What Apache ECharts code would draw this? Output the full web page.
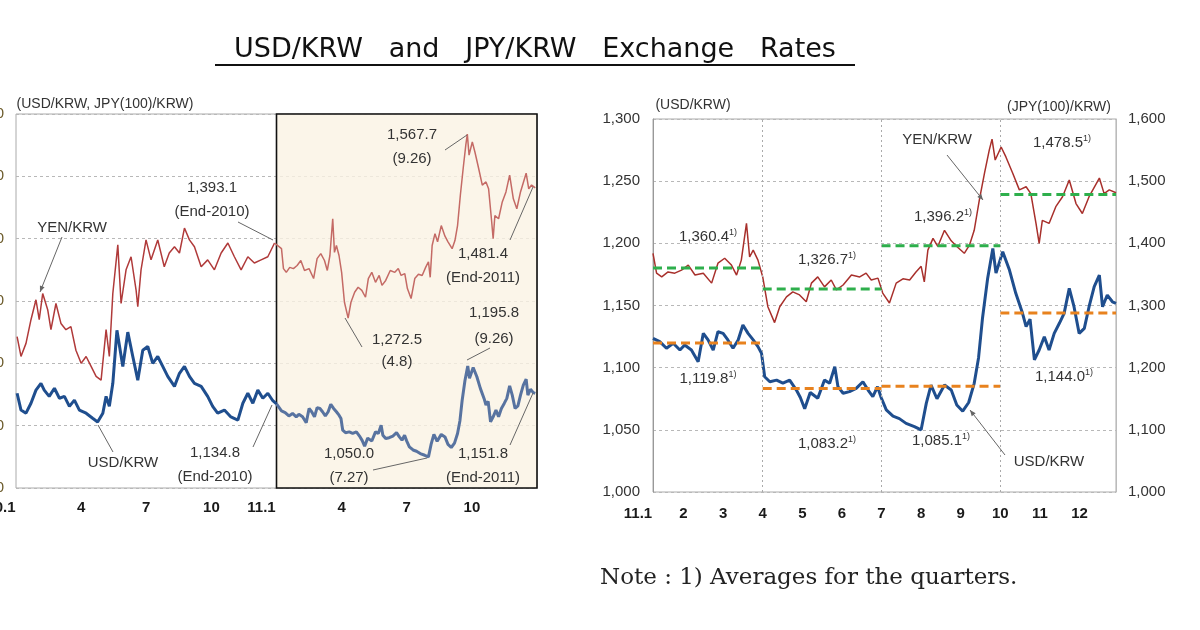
<!DOCTYPE html>
<html><head><meta charset="utf-8">
<script src="https://cdn.jsdelivr.net/npm/echarts@6/dist/echarts.min.js"></script>
<style>html,body{margin:0;padding:0;background:#fff}#c{width:1200px;height:630px}</style>
</head><body><div id="c"></div>
<script>
// ---- DATA (month index from Jan 1 of the year, rate) ----
const usd2010 = [[0.05,1152],[0.23,1125],[0.46,1120],[0.69,1136],[0.92,1157],[1.15,1168],[1.30,1157],[1.53,1147],[1.77,1160],[2.00,1144],[2.23,1147],[2.46,1131],[2.69,1141],[2.92,1125],[3.23,1120],[3.53,1112],[3.76,1106],[4.00,1120],[4.15,1147],[4.30,1131],[4.46,1168],[4.65,1253],[4.92,1195],[5.15,1250],[5.38,1211],[5.61,1173],[5.84,1221],[6.07,1227],[6.30,1200],[6.53,1211],[6.76,1195],[6.99,1179],[7.30,1163],[7.53,1184],[7.76,1195],[7.99,1179],[8.22,1168],[8.53,1163],[8.83,1147],[9.06,1131],[9.29,1120],[9.60,1125],[9.90,1114],[10.22,1109],[10.45,1136],[10.68,1152],[10.91,1136],[11.14,1157],[11.37,1144],[11.60,1152],[11.83,1140],[12.00,1134.8]];
const yen2010 = [[0.05,1243],[0.23,1211],[0.46,1232],[0.69,1270],[0.92,1302],[1.07,1270],[1.23,1312],[1.46,1286],[1.61,1254],[1.84,1296],[2.07,1264],[2.30,1254],[2.53,1259],[2.76,1221],[3.00,1200],[3.23,1211],[3.46,1195],[3.69,1179],[3.92,1173],[4.15,1254],[4.30,1211],[4.46,1312],[4.69,1390],[4.84,1296],[5.07,1350],[5.30,1371],[5.53,1318],[5.61,1291],[5.76,1350],[5.99,1398],[6.22,1366],[6.53,1398],[6.83,1355],[7.06,1377],[7.30,1387],[7.53,1377],[7.76,1417],[7.99,1398],[8.22,1387],[8.53,1355],[8.83,1366],[9.14,1350],[9.45,1377],[9.76,1393],[10.06,1371],[10.37,1350],[10.68,1371],[10.98,1361],[11.29,1366],[11.60,1371],[11.91,1393.1]];
const usd2011 = [[0.23,1123.6],[0.40,1120.9],[0.57,1115.6],[0.74,1119.6],[0.91,1114.2],[1.03,1118.2],[1.20,1114.2],[1.37,1104.8],[1.50,1127.6],[1.62,1122.3],[1.75,1114.2],[1.87,1128.9],[2.00,1127.6],[2.12,1122.3],[2.25,1115.6],[2.38,1122.3],[2.50,1134.3],[2.63,1127.6],[2.76,1122.3],[2.88,1116.9],[2.97,1111.5],[3.05,1092.7],[3.18,1088.7],[3.35,1090],[3.51,1087.5],[3.68,1090],[3.85,1082],[3.95,1076],[4.06,1067],[4.20,1080],[4.39,1075.4],[4.56,1090],[4.69,1087.5],[4.82,1100.8],[4.90,1084.7],[5.03,1079.4],[5.19,1080.7],[5.36,1083.4],[5.53,1088.7],[5.66,1082],[5.78,1076.7],[5.90,1084.7],[5.99,1076],[6.12,1066],[6.29,1061],[6.45,1059],[6.62,1055.2],[6.83,1052.5],[7.00,1050.0],[7.13,1071.3],[7.25,1086],[7.40,1075],[7.59,1086],[7.76,1082],[7.90,1070],[8.05,1065],[8.20,1072],[8.34,1087.4],[8.45,1108],[8.55,1140],[8.68,1172],[8.81,1195.8],[8.89,1176],[9.06,1193.3],[9.23,1178.5],[9.39,1159.8],[9.56,1143.7],[9.65,1133],[9.75,1139],[9.86,1106.2],[9.98,1114.2],[10.11,1124.9],[10.23,1114.2],[10.36,1127.6],[10.49,1135.7],[10.61,1143.7],[10.74,1163.8],[10.86,1149],[10.99,1127.6],[11.12,1131.6],[11.24,1149],[11.37,1165.1],[11.50,1174.5],[11.58,1149],[11.70,1158.4],[11.83,1153],[11.92,1151.8]];
const yen2011 = [[0.23,1384],[0.32,1352],[0.45,1346],[0.61,1354],[0.78,1352],[0.95,1357],[1.12,1365],[1.29,1349],[1.50,1352],[1.71,1336],[1.87,1368],[2.04,1376],[2.21,1365],[2.34,1349],[2.46,1373],[2.59,1432],[2.67,1378],[2.76,1389],[2.88,1373],[3.00,1346],[3.13,1298],[3.30,1272.5],[3.43,1298],[3.60,1314],[3.76,1322],[3.93,1317],[4.10,1306],[4.23,1336],[4.39,1346],[4.56,1330],[4.73,1341],[4.86,1325],[5.03,1333],[5.24,1349],[5.45,1346],[5.61,1352],[5.74,1341],[5.91,1344],[6.03,1320],[6.20,1304],[6.37,1336],[6.54,1343],[6.71,1341],[6.87,1354],[7.00,1363],[7.08,1338],[7.17,1389],[7.30,1408],[7.42,1395],[7.59,1421],[7.76,1404],[7.90,1395],[8.09,1384],[8.22,1397],[8.34,1421],[8.47,1470],[8.60,1513],[8.72,1550],[8.79,1567.7],[8.87,1534],[9.02,1555],[9.14,1539],[9.31,1513],[9.48,1486],[9.65,1491],[9.77,1480],[9.90,1432],[9.98,1400],[10.06,1437],[10.23,1432],[10.40,1459],[10.57,1475],[10.74,1502],[10.91,1464],[11.07,1448],[11.24,1475],[11.50,1505],[11.62,1480],[11.75,1486],[11.92,1481.4]];
const leftTickLabels = ['10.1','4','7','10','11.1','4','7','10'];
const rightTickLabels = ['11.1','2','3','4','5','6','7','8','9','10','11','12'];
const quarterBounds = [0.23, 3, 6, 9, 11.92];
const usdQuarterAvg = [1119.8, 1083.2, 1085.1, 1144.0];
const yenQuarterAvg = [1360.4, 1326.7, 1396.2, 1478.5];

// ---- CHART ----
const FONT = "'Liberation Sans', Arial, sans-serif";
const chart = echarts.init(document.getElementById('c'), null, {renderer: 'canvas'});
const fmt = v => v.toLocaleString('en-US', {minimumFractionDigits: 0, maximumFractionDigits: 1});
const fmt1 = v => v.toLocaleString('en-US', {minimumFractionDigits: 1, maximumFractionDigits: 1});
const shift = (arr, d) => arr.map(p => [p[0] + d, p[1]]);

const splitDash = {show: true, lineStyle: {color: '#b8b8b8', type: [3, 3], width: 1}};
const xLabelRich = {y: {padding: [0, 30, 0, 0], fontWeight: 'bold', fontSize: 15, color: '#1a1a1a', fontFamily: FONT}};

const series = [
  {type: 'line', xAxisIndex: 0, yAxisIndex: 0, data: yen2010, showSymbol: false, lineStyle: {color: '#B03A3A', width: 1.5}, itemStyle: {color: '#B03A3A'},
   markArea: {silent: true, itemStyle: {color: 'rgba(250,243,228,0.8)', borderColor: '#111', borderWidth: 1.6},
     data: [[{xAxis: 12, yAxis: 1000}, {xAxis: 24, yAxis: 1600}]]}},
  {type: 'line', xAxisIndex: 0, yAxisIndex: 0, data: usd2010, showSymbol: false, lineStyle: {color: '#1F4E8E', width: 3}, itemStyle: {color: '#1F4E8E'}},
  {type: 'line', xAxisIndex: 0, yAxisIndex: 0, data: [yen2010[yen2010.length - 1]].concat(shift(yen2011, 12)), showSymbol: false, lineStyle: {color: '#C46A65', width: 1.5}},
  {type: 'line', xAxisIndex: 0, yAxisIndex: 0, data: [usd2010[usd2010.length - 1]].concat(shift(usd2011, 12)), showSymbol: false, lineStyle: {color: '#5873A0', width: 3}},
  {type: 'line', xAxisIndex: 1, yAxisIndex: 1, data: usd2011, showSymbol: false, lineStyle: {color: '#1F4E8E', width: 3},
   markLine: {silent: true, symbol: 'none', label: {show: false}, lineStyle: {color: '#aaa', type: [2, 3], width: 1},
     data: [{xAxis: 3}, {xAxis: 6}, {xAxis: 9}]}},
  {type: 'line', xAxisIndex: 1, yAxisIndex: 2, data: yen2011, showSymbol: false, lineStyle: {color: '#A8302C', width: 1.5}}
];
for (let q = 0; q < 4; q++) {
  series.push({type: 'line', xAxisIndex: 1, yAxisIndex: 1, z: 4, showSymbol: false,
    data: [[quarterBounds[q], usdQuarterAvg[q]], [quarterBounds[q + 1], usdQuarterAvg[q]]],
    lineStyle: {color: '#E8821E', width: 3, type: [9, 5]}});
  series.push({type: 'line', xAxisIndex: 1, yAxisIndex: 2, z: 4, showSymbol: false,
    data: [[quarterBounds[q], yenQuarterAvg[q]], [quarterBounds[q + 1], yenQuarterAvg[q]]],
    lineStyle: {color: '#2EAF4C', width: 3, type: [9, 5]}});
}

// annotations
const txt = (text, x, y, lh) => ({type: 'text', x, y, z: 100,
  style: {text, fill: '#333', font: '15px ' + FONT, textAlign: 'center', textVerticalAlign: 'middle', lineHeight: lh || 24}});
const small = (text, x, y) => ({type: 'text', x, y, z: 100,
  style: {text, fill: '#333', font: '14px ' + FONT, textAlign: 'center', textVerticalAlign: 'middle'}});
const ln = (x1, y1, x2, y2) => ({type: 'line', z: 100, shape: {x1, y1, x2, y2}, style: {stroke: '#666', lineWidth: 1}});
const arrow = (x1, y1, x2, y2) => {
  const a = Math.atan2(y2 - y1, x2 - x1), L = 6, W = 2.5;
  const bx = x2 - L * Math.cos(a), by = y2 - L * Math.sin(a);
  return [ln(x1, y1, x2, y2), {type: 'polygon', z: 100, shape: {points: [[x2, y2], [bx - W * Math.sin(a), by + W * Math.cos(a)], [bx + W * Math.sin(a), by - W * Math.cos(a)]]}, style: {fill: '#666'}}];
};
const supLabel = (v, x, y) => ({type: 'text', x, y, z: 100,
  style: {text: '{n|' + fmt1(v) + '}{s|1)}', textAlign: 'center', textVerticalAlign: 'middle',
    rich: {n: {fontSize: 15, fontFamily: FONT, fill: '#333', lineHeight: 18}, s: {fontSize: 9, fontFamily: FONT, fill: '#333', verticalAlign: 'top', lineHeight: 18}}}});

const usdAvgPos = [[708, 379], [827, 444], [941, 441], [1064, 377]];
const yenAvgPos = [[708, 237], [827, 260], [943, 217], [1062, 143]];

const graphics = [
  {type: 'text', x: 535, y: 50, z: 100, style: {text: 'USD/KRW   and   JPY/KRW   Exchange   Rates', fill: '#111', font: '27px \'DejaVu Sans\', ' + FONT, textAlign: 'center', textVerticalAlign: 'middle'}},
  {type: 'line', z: 100, shape: {x1: 215, y1: 65, x2: 855, y2: 65}, style: {stroke: '#111', lineWidth: 2}},
  small('(USD/KRW, JPY(100)/KRW)', 105, 104),
  small('(USD/KRW)', 693, 105),
  small('(JPY(100)/KRW)', 1059, 107),
  txt('YEN/KRW', 72, 228), ...arrow(62, 237, 40, 292),
  txt('1,393.1\n(End-2010)', 212, 200), ln(238, 222, 273, 240),
  txt('USD/KRW', 123, 463), ln(113, 452, 98, 425),
  txt('1,134.8\n(End-2010)', 215, 465), ln(253, 447, 272, 405),
  txt('1,567.7\n(9.26)', 412, 147), ln(445, 150, 467, 135),
  txt('1,481.4\n(End-2011)', 483, 266), ln(510, 240, 533, 187),
  txt('1,272.5\n(4.8)', 397, 351, 22), ln(362, 347, 345, 318),
  txt('1,195.8\n(9.26)', 494, 326, 26), ln(467, 360, 490, 348),
  txt('1,050.0\n(7.27)', 349, 466), ln(373, 470, 427, 458),
  txt('1,151.8\n(End-2011)', 483, 466), ln(510, 445, 533, 393),
  txt('YEN/KRW', 937, 140), ...arrow(947, 155, 983, 200),
  txt('USD/KRW', 1049, 462), ...arrow(1005, 455, 970, 410),
  {type: 'text', x: 600, y: 578, z: 100, style: {text: 'Note : 1) Averages for the quarters.', fill: '#222', font: '23px \'DejaVu Serif\', \'Liberation Serif\', serif', textVerticalAlign: 'middle'}}
];
for (let q = 0; q < 4; q++) {
  graphics.push(supLabel(usdQuarterAvg[q], usdAvgPos[q][0], usdAvgPos[q][1]));
  graphics.push(supLabel(yenQuarterAvg[q], yenAvgPos[q][0], yenAvgPos[q][1]));
}

const option = {
  animation: false,
  backgroundColor: '#fff',
  textStyle: {fontFamily: FONT},
  grid: [
    {left: 16, top: 114, width: 521, height: 374, show: true, borderColor: '#aaa', borderWidth: 1, backgroundColor: 'transparent', containLabel: false, outerBoundsMode: 'none'},
    {left: 653, top: 119, width: 463, height: 373, show: true, borderColor: '#aaa', borderWidth: 1, backgroundColor: 'transparent', containLabel: false, outerBoundsMode: 'none'}
  ],
  xAxis: [
    {type: 'value', gridIndex: 0, min: 0, max: 24, interval: 3,
     axisLine: {show: false}, axisTick: {show: false}, splitLine: {show: false},
     axisLabel: {margin: 12, fontWeight: 'bold', fontSize: 15, color: '#1a1a1a', rich: xLabelRich, hideOverlap: false,
       formatter: v => { const t = leftTickLabels[Math.round(v / 3)]; if (!t) return ''; return t.indexOf('.') >= 0 ? '{y|' + t + '}' : t; }}},
    {type: 'value', gridIndex: 1, min: quarterBounds[0], max: quarterBounds[4],
     axisLine: {show: false}, axisTick: {show: false}, splitLine: {show: false},
     axisLabel: {margin: 14, fontWeight: 'bold', fontSize: 15, color: '#1a1a1a', rich: xLabelRich, hideOverlap: false,
       customValues: [quarterBounds[0], 1, 2, 3, 4, 5, 6, 7, 8, 9, 10, 11],
       formatter: v => { const t = rightTickLabels[Math.round(v)]; if (!t) return ''; return t.indexOf('.') >= 0 ? '{y|' + t + '}' : t; }}}
  ],
  yAxis: [
    {type: 'value', gridIndex: 0, min: 1000, max: 1600, interval: 100,
     axisLine: {show: false}, axisTick: {show: false}, splitLine: splitDash,
     axisLabel: {margin: 12, fontSize: 15, color: '#6b5a2a', formatter: v => fmt(v)}},
    {type: 'value', gridIndex: 1, min: 1000, max: 1300, interval: 50, position: 'left',
     axisLine: {show: true, lineStyle: {color: '#999'}}, axisTick: {show: false}, splitLine: splitDash,
     axisLabel: {margin: 13, fontSize: 15, color: '#333', formatter: v => fmt(v)}},
    {type: 'value', gridIndex: 1, min: 1000, max: 1600, interval: 100, position: 'right',
     axisLine: {show: true, lineStyle: {color: '#bbb'}}, axisTick: {show: false}, splitLine: {show: false},
     axisLabel: {margin: 12, fontSize: 15, color: '#333', formatter: v => fmt(v)}}
  ],
  series: series,
  graphic: graphics
};
chart.setOption(option);
</script>
</body></html>
